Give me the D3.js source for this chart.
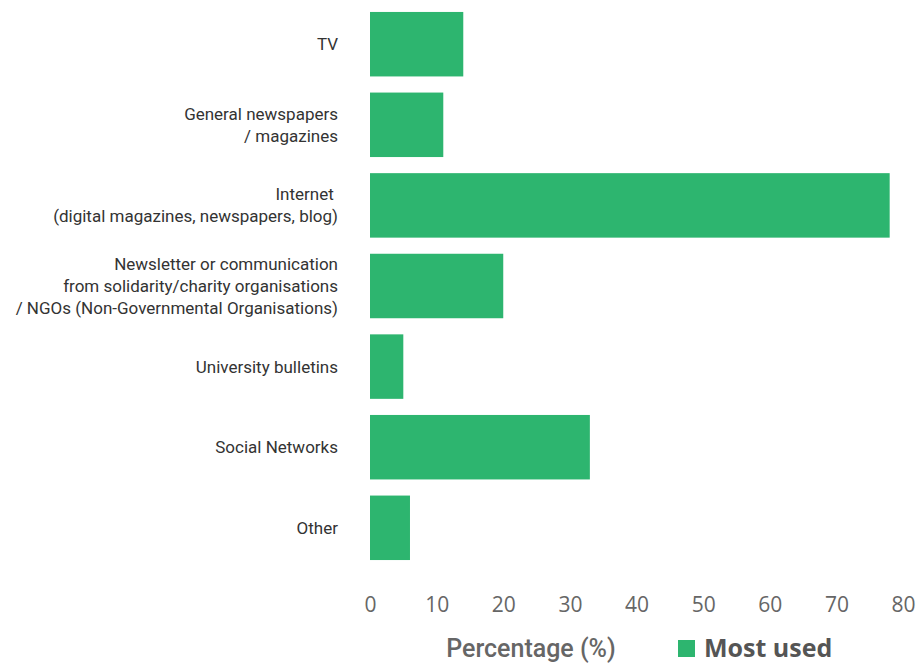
<!DOCTYPE html>
<html><head><meta charset="utf-8">
<script src="https://cdn.jsdelivr.net/npm/d3@7"></script>
<style>body{margin:0;background:#fff;} svg{display:block;}</style>
</head><body>
<svg id="chart" width="917" height="664"></svg>
<script>
const categories = [
  ["TV"],
  ["General newspapers", "/ magazines"],
  ["Internet ", "(digital magazines, newspapers, blog)"],
  ["Newsletter or communication", "from solidarity/charity organisations", "/ NGOs (Non-Governmental Organisations)"],
  ["University bulletins"],
  ["Social Networks"],
  ["Other"]
];
const values = [14, 11, 78, 20, 5, 33, 6];
const tickValues = [0, 10, 20, 30, 40, 50, 60, 70, 80];
const seriesName = "Most used";
const axisTitle = "Percentage (%)";

const svg = d3.select("#chart");
const color = "#2db56f";
const keys = categories.map((c, i) => i);

const x = d3.scaleLinear().domain([0, 80]).range([370, 903]);
const y = d3.scaleBand().domain(keys).range([3.9, 568.1]).paddingInner(0.2).paddingOuter(0.1);

svg.append("g").selectAll("rect").data(values).join("rect")
  .attr("x", x(0))
  .attr("y", (d, i) => y(i))
  .attr("width", d => x(d) - x(0))
  .attr("height", y.bandwidth())
  .attr("fill", color);

// category labels
const yAxis = d3.axisLeft(y).tickSize(0).tickPadding(0).tickFormat(() => "");
const ga = svg.append("g").attr("transform", "translate(338,0)").call(yAxis);
ga.select(".domain").remove();
ga.selectAll(".tick").each(function(i) {
  const lines = categories[i];
  const t = d3.select(this).append("text")
    .attr("text-anchor", "end")
    .attr("fill", "#333")
    .style("font-family", "Roboto, sans-serif")
    .style("font-size", "17px");
  const lh = 22;
  const start = -(lines.length - 1) * lh / 2;
  lines.forEach((l, k) => {
    t.append("tspan").attr("x", 0).attr("y", start + k * lh).attr("dy", "0.35em")
      .attr("xml:space", "preserve").text(l);
  });
});

// x axis
const xAxis = d3.axisBottom(x).tickValues(tickValues).tickSize(0).tickPadding(0);
const gx = svg.append("g").attr("transform", "translate(0,597)").call(xAxis);
gx.select(".domain").remove();
gx.selectAll("text")
  .attr("fill", "#666")
  .attr("dy", "0.71em")
  .style("font-family", "'Open Sans', sans-serif")
  .style("font-size", "21px");

// axis title
svg.append("text").attr("x", 531).attr("y", 657).attr("text-anchor", "middle")
  .attr("fill", "#666")
  .style("font-family", "Roboto, sans-serif")
  .style("font-weight", "500")
  .style("font-size", "25px")
  .text(axisTitle);

// legend
svg.append("rect").attr("x", 678).attr("y", 640).attr("width", 17).attr("height", 17).attr("fill", color);
svg.append("text").attr("x", 704).attr("y", 657)
  .attr("fill", "#555")
  .style("font-family", "'Open Sans', sans-serif")
  .style("font-weight", "bold")
  .style("font-size", "25px")
  .text(seriesName);
</script>
</body></html>
